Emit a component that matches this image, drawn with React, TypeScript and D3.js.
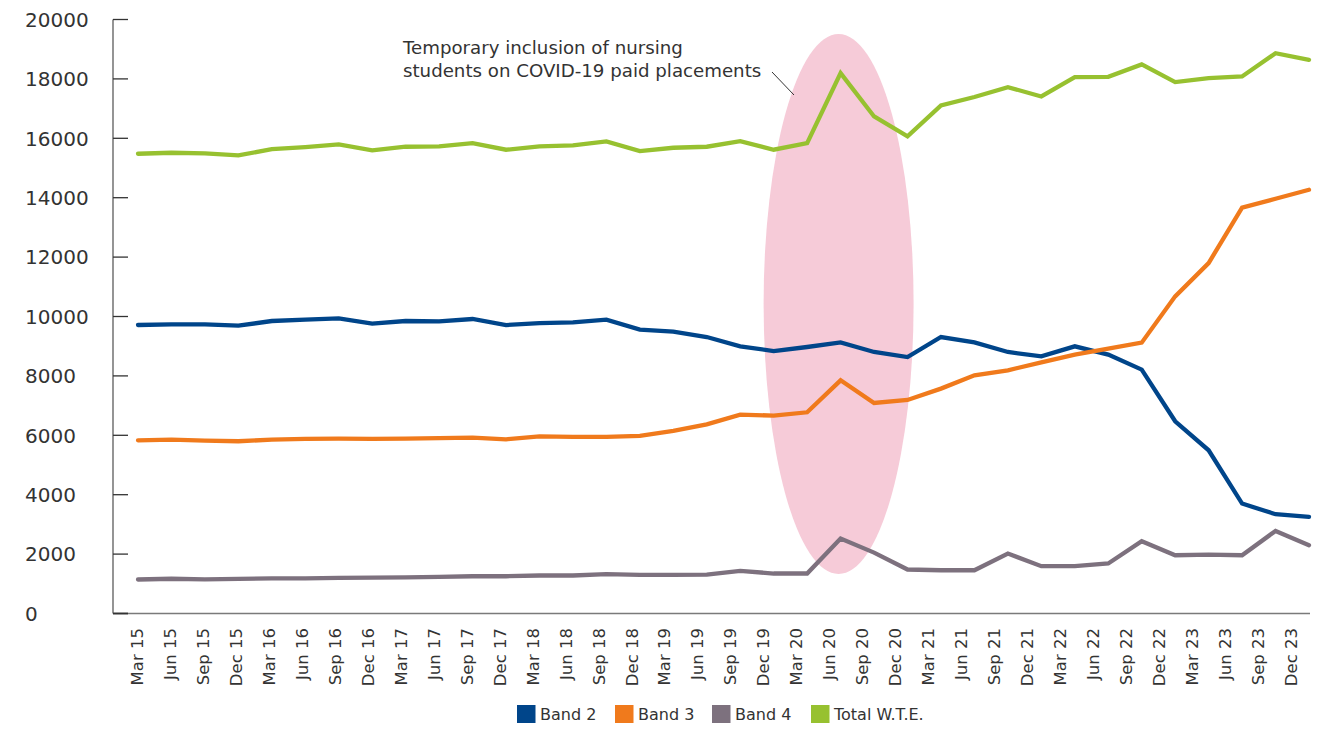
import React from "react";
import * as d3 from "d3";

const categories = [
  "Mar 15", "Jun 15", "Sep 15", "Dec 15",
  "Mar 16", "Jun 16", "Sep 16", "Dec 16",
  "Mar 17", "Jun 17", "Sep 17", "Dec 17",
  "Mar 18", "Jun 18", "Sep 18", "Dec 18",
  "Mar 19", "Jun 19", "Sep 19", "Dec 19",
  "Mar 20", "Jun 20", "Sep 20", "Dec 20",
  "Mar 21", "Jun 21", "Sep 21", "Dec 21",
  "Mar 22", "Jun 22", "Sep 22", "Dec 22",
  "Mar 23", "Jun 23", "Sep 23", "Dec 23",
];

const band2 = [9713, 9736, 9736, 9692, 9848, 9894, 9938, 9759, 9848, 9837, 9916, 9713, 9780, 9803, 9894, 9557, 9490, 9309, 8996, 8838, 8973, 9130, 8805, 8636, 9309, 9130, 8805, 8659, 8996, 8716, 8211, 6472, 5496, 3702, 3342, 3252];
const band3 = [5832, 5856, 5822, 5799, 5856, 5877, 5889, 5877, 5889, 5905, 5923, 5866, 5967, 5944, 5944, 5978, 6146, 6370, 6697, 6663, 6775, 7851, 7088, 7190, 7572, 8020, 8188, 8457, 8716, 8918, 9120, 10678, 11800, 13663, 13966, 14269];
const band4 = [1144, 1170, 1150, 1165, 1180, 1185, 1200, 1210, 1215, 1232, 1255, 1255, 1279, 1279, 1323, 1300, 1300, 1311, 1435, 1346, 1346, 2524, 2050, 1481, 1457, 1457, 2019, 1592, 1592, 1683, 2433, 1962, 1985, 1962, 2780, 2298];
const totalWTE = [15480, 15514, 15490, 15423, 15636, 15703, 15794, 15592, 15716, 15726, 15837, 15615, 15726, 15760, 15894, 15570, 15682, 15716, 15905, 15615, 15837, 18193, 16736, 16063, 17106, 17390, 17723, 17409, 18059, 18070, 18486, 17891, 18025, 18081, 18866, 18643];

const yTicks = [0, 2000, 4000, 6000, 8000, 10000, 12000, 14000, 16000, 18000, 20000];

const seriesNames = ["Band 2", "Band 3", "Band 4", "Total W.T.E."];
const seriesColors = ["#00458a", "#f07a1c", "#7d717e", "#97c130"];
const seriesValues = [band2, band3, band4, totalWTE];

const highlightStart = "Jun 20";
const annotationLines = ["Temporary inclusion of nursing", "students on COVID-19 paid placements"];

const W = 1332;
const H = 729;
const FONT = "'DejaVu Sans', sans-serif";

export default function App() {
  const x = d3.scalePoint<string>().domain(categories).range([138, 1309]);
  const xLabel = d3.scalePoint<string>().domain(categories).range([137, 1291]);
  const y = d3.scaleLinear().domain([0, 20000]).range([613.5, 19.5]);
  const axisLeft = 113;
  const axisRight = 1310;

  const line = d3
    .line<number>()
    .x((_, i) => x(categories[i]) as number)
    .y((d) => y(d));

  const hx = x(highlightStart) as number;

  return (
    <svg
      width={W}
      height={H}
      style={{ position: "absolute", left: 0, top: 0, background: "#fff" }}
      fontFamily={FONT}
    >
      <rect width={W} height={H} fill="#fff" />
      {/* highlight ellipse */}
      <ellipse cx={hx - 2} cy={y(10000) - 12.5} rx={75} ry={270} fill="#f6cbd8" />

      {/* y axis */}
      <line x1={axisLeft} x2={axisLeft} y1={y(20000)} y2={y(0)} stroke="#7a7a7a" strokeWidth={1.6} />
      {yTicks.map((t) => (
        <g key={t}>
          <line x1={axisLeft} x2={axisLeft + 15} y1={y(t)} y2={y(t)} stroke="#333" strokeWidth={1.3} />
          <text x={25} y={y(t)} dy="0.36em" fontSize={20} fill="#333">
            {t}
          </text>
        </g>
      ))}
      {/* x axis */}
      <line x1={axisLeft} x2={axisRight} y1={y(0)} y2={y(0)} stroke="#7a7a7a" strokeWidth={1.6} />
      <line x1={axisLeft} x2={axisLeft + 15} y1={y(0)} y2={y(0)} stroke="#333" strokeWidth={1.6} />
      {categories.map((c) => (
        <text
          key={c}
          transform={`translate(${xLabel(c)},628) rotate(-90)`}
          textAnchor="end"
          dy="0.36em"
          fontSize={16.5}
          fill="#333"
        >
          {c}
        </text>
      ))}

      {/* lines */}
      {seriesValues.map((vals, k) => (
        <path
          key={seriesNames[k]}
          d={line(vals) as string}
          fill="none"
          stroke={seriesColors[k]}
          strokeWidth={4.3}
          strokeLinejoin="miter"
          strokeLinecap="round"
        />
      ))}

      {/* annotation */}
      <text x={403} y={54} fontSize={18.2} fill="#333">
        {annotationLines.map((l, i) => (
          <tspan key={i} x={403} dy={i === 0 ? 0 : 23}>
            {l}
          </tspan>
        ))}
      </text>
      <line x1={772} y1={72} x2={794} y2={95} stroke="#333" strokeWidth={1} />

      {/* legend */}
      {[517, 615, 712, 811].map((lx, k) => (
        <g key={seriesNames[k]}>
          <rect x={lx} y={705} width={18.5} height={18} fill={seriesColors[k]} />
          <text x={lx + 23} y={714} dy="0.36em" fontSize={16} fill="#333">
            {seriesNames[k]}
          </text>
        </g>
      ))}
    </svg>
  );
}
